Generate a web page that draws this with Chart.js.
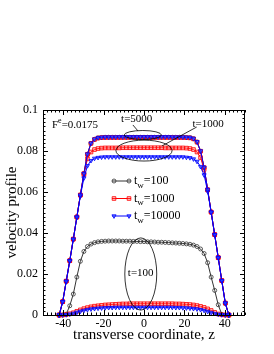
<!DOCTYPE html>
<html>
<head>
<meta charset="utf-8">
<script src="https://cdn.jsdelivr.net/npm/chart.js@4/dist/chart.umd.min.js"></script>
<style>
    body { margin: 0; background: #fff; }
    canvas { display: block; }
</style>
</head>
<body>
<canvas id="profileChart" width="274" height="354"></canvas>
<script>
// transverse coordinate of every sample
var zValues = [-42, -40.25, -38.5, -36.75, -35, -33.25, -31.5, -29.75, -28, -26.25, -24.5, -22.75,
    -21, -19.25, -17.5, -15.75, -14, -12.25, -10.5, -8.75, -7, -5.25, -3.5, -1.75, 0,
    1.75, 3.5, 5.25, 7, 8.75, 10.5, 12.25, 14, 15.75, 17.5, 19.25, 21, 22.75, 24.5, 26.25,
    28, 29.75, 31.5, 33.25, 35, 36.75, 38.5, 40.25, 42];

// tick labels
var xTicks = [-40, -20, 0, 20, 40];
var yTicks = [0, 0.02, 0.04, 0.06, 0.08, 0.1];
var yTickLabels = ['0', '0.02', '0.04', '0.06', '0.08', '0.1'];

// legend entries (waiting time t_w)
var waitTimes = ['100', '1000', '10000'];

// t_w = 100
var tw100_t100 = [0, 0, 0.0004, 0.0045, 0.0102, 0.0185, 0.0262, 0.0310, 0.0334, 0.0346, 0.0353, 0.0357,
    0.0359, 0.0360, 0.0361, 0.0361, 0.0361, 0.0361, 0.0360, 0.0360, 0.0360, 0.0359, 0.0359, 0.0358, 0.0358,
    0.0357, 0.0357, 0.0356, 0.0355, 0.0355, 0.0354, 0.0353, 0.0352, 0.0351, 0.0350, 0.0349, 0.0347, 0.0345,
    0.0341, 0.0334, 0.0322, 0.0300, 0.0255, 0.0185, 0.0120, 0.0050, 0.0003, 0, 0];
var tw100_t5000 = [0, 0.0065, 0.0165, 0.0265, 0.0370, 0.0478, 0.0585, 0.0690, 0.0784, 0.0837, 0.0857, 0.0864,
    0.0866, 0.0867, 0.0867, 0.0867, 0.0867, 0.0867, 0.0867, 0.0867, 0.0867, 0.0867, 0.0867, 0.0867, 0.0867,
    0.0867, 0.0867, 0.0867, 0.0867, 0.0867, 0.0867, 0.0867, 0.0867, 0.0867, 0.0867, 0.0867, 0.0866, 0.0865,
    0.0860, 0.0844, 0.0799, 0.0719, 0.0611, 0.0502, 0.0392, 0.0280, 0.0168, 0.0058, 0];

// t_w = 1000
var tw1000_t100 = [0, 0, 0.0002, 0.0006, 0.0011, 0.0018, 0.0025, 0.0031, 0.0036, 0.0040, 0.0043, 0.0045,
    0.0047, 0.0049, 0.0050, 0.0051, 0.0052, 0.0053, 0.0054, 0.0054, 0.0055, 0.0055, 0.0055, 0.0055, 0.0055,
    0.0055, 0.0055, 0.0055, 0.0055, 0.0055, 0.0055, 0.0055, 0.0055, 0.0054, 0.0054, 0.0053, 0.0052, 0.0051,
    0.0049, 0.0046, 0.0042, 0.0037, 0.0030, 0.0022, 0.0013, 0.0005, 0.0001, 0, 0];
var tw1000_t1000 = [0, 0.0065, 0.0165, 0.0265, 0.0370, 0.0478, 0.0585, 0.0685, 0.0762, 0.0795, 0.0807, 0.0812,
    0.0814, 0.0815, 0.0815, 0.0815, 0.0815, 0.0815, 0.0816, 0.0816, 0.0816, 0.0816, 0.0816, 0.0816, 0.0816,
    0.0816, 0.0816, 0.0816, 0.0816, 0.0816, 0.0815, 0.0815, 0.0815, 0.0815, 0.0815, 0.0815, 0.0814, 0.0812,
    0.0807, 0.0795, 0.0768, 0.0710, 0.0610, 0.0502, 0.0392, 0.0280, 0.0168, 0.0058, 0];
var tw1000_t5000 = [0, 0.0065, 0.0165, 0.0265, 0.0370, 0.0478, 0.0585, 0.0690, 0.0784, 0.0837, 0.0856, 0.0863,
    0.0865, 0.0866, 0.0866, 0.0866, 0.0866, 0.0866, 0.0866, 0.0866, 0.0866, 0.0866, 0.0866, 0.0866, 0.0866,
    0.0866, 0.0866, 0.0866, 0.0866, 0.0866, 0.0866, 0.0866, 0.0866, 0.0866, 0.0866, 0.0866, 0.0865, 0.0864,
    0.0859, 0.0843, 0.0799, 0.0719, 0.0611, 0.0502, 0.0392, 0.0280, 0.0168, 0.0058, 0];

// t_w = 10000
var tw10000_t100 = [0, 0, 0.0001, 0.0004, 0.0008, 0.0013, 0.0018, 0.0022, 0.0026, 0.0029, 0.0031, 0.0033,
    0.0034, 0.0035, 0.0036, 0.0036, 0.0037, 0.0037, 0.0037, 0.0037, 0.0037, 0.0037, 0.0037, 0.0037, 0.0037,
    0.0037, 0.0037, 0.0037, 0.0037, 0.0037, 0.0037, 0.0037, 0.0037, 0.0036, 0.0036, 0.0035, 0.0034, 0.0033,
    0.0031, 0.0029, 0.0026, 0.0022, 0.0017, 0.0012, 0.0007, 0.0003, 0.0001, 0, 0];
var tw10000_t1000 = [0, 0.0064, 0.0163, 0.0263, 0.0368, 0.0475, 0.0580, 0.0668, 0.0728, 0.0753, 0.0764, 0.0768,
    0.0770, 0.0771, 0.0771, 0.0771, 0.0771, 0.0771, 0.0771, 0.0771, 0.0771, 0.0771, 0.0771, 0.0771, 0.0771,
    0.0771, 0.0771, 0.0771, 0.0771, 0.0771, 0.0771, 0.0771, 0.0771, 0.0771, 0.0771, 0.0771, 0.0769, 0.0767,
    0.0761, 0.0749, 0.0724, 0.0683, 0.0603, 0.0500, 0.0390, 0.0278, 0.0166, 0.0057, 0];
var tw10000_t5000 = [0, 0.0065, 0.0165, 0.0265, 0.0370, 0.0478, 0.0585, 0.0690, 0.0785, 0.0838, 0.0858, 0.0865,
    0.0867, 0.0868, 0.0868, 0.0868, 0.0868, 0.0869, 0.0869, 0.0869, 0.0869, 0.0869, 0.0869, 0.0869, 0.0869,
    0.0869, 0.0869, 0.0869, 0.0869, 0.0869, 0.0869, 0.0869, 0.0868, 0.0868, 0.0868, 0.0868, 0.0867, 0.0866,
    0.0861, 0.0845, 0.0800, 0.0720, 0.0612, 0.0502, 0.0392, 0.0280, 0.0168, 0.0058, 0];

var FONT = 'Liberation Serif';

// line look of each waiting time
var styles = {
    '100': { line: '#333333', fill: 'rgba(255,255,255,0)', point: 'circle', radius: 2, rotation: 0 },
    '1000': { line: '#ff0000', fill: 'rgba(255,90,90,0.35)', point: 'rect', radius: 2.6, rotation: 0 },
    '10000': { line: '#0000ff', fill: 'rgba(60,90,255,0.6)', point: 'triangle', radius: 2.4, rotation: 180 }
};

function makeSet(label, tw, values, order) {
    var st = styles[tw];
    var pts = [];
    for (var i = 0; i < zValues.length; i++) {
        pts.push({ x: zValues[i], y: values[i] });
    }
    return {
        label: label,
        data: pts,
        borderColor: st.line,
        borderWidth: 1,
        backgroundColor: st.fill,
        pointBackgroundColor: st.fill,
        pointBorderColor: st.line,
        pointBorderWidth: 0.8,
        pointStyle: st.point,
        pointRadius: st.radius,
        pointRotation: st.rotation,
        pointHoverRadius: st.radius,
        tension: 0,
        fill: false,
        clip: 6,
        order: order
    };
}

// frame with inward ticks, in-plot legend and the hand made notes
var decorPlugin = {
    id: 'decor',
    afterDraw: function (chart) {
        var ctx = chart.ctx;
        var a = chart.chartArea;
        var xs = chart.scales.x;
        var ys = chart.scales.y;
        var i, p, len;

        ctx.save();
        ctx.strokeStyle = '#000';
        ctx.lineWidth = 1;
        ctx.strokeRect(a.left + 0.5, a.top + 0.5, a.right - a.left - 1, a.bottom - a.top);

        ctx.beginPath();
        for (i = -50; i <= 50; i += 2) {
            p = Math.round(xs.getPixelForValue(i)) + 0.5;
            len = (i % 20 === 0) ? 5 : 2.5;
            ctx.moveTo(p, a.bottom);
            ctx.lineTo(p, a.bottom - len);
            ctx.moveTo(p, a.top);
            ctx.lineTo(p, a.top + len);
        }
        for (i = 0; i <= 50; i++) {
            p = Math.round(ys.getPixelForValue(i * 0.002)) + 0.5;
            len = (i % 10 === 0) ? 5 : 2.5;
            ctx.moveTo(a.left, p);
            ctx.lineTo(a.left + len, p);
            ctx.moveTo(a.right, p);
            ctx.lineTo(a.right - len, p);
        }
        ctx.stroke();

        // legend
        ctx.fillStyle = '#000';
        ctx.textBaseline = 'middle';
        for (i = 0; i < waitTimes.length; i++) {
            var st = styles[waitTimes[i]];
            var ly = 181 + i * 17.5;
            ctx.strokeStyle = st.line;
            ctx.lineWidth = 1;
            ctx.beginPath();
            ctx.moveTo(112, ly);
            ctx.lineTo(131, ly);
            ctx.stroke();
            ctx.fillStyle = st.fill;
            ctx.lineWidth = 0.8;
            Chart.helpers.drawPoint(ctx, { pointStyle: st.point, radius: st.radius, rotation: st.rotation, borderWidth: 0.8 }, 114, ly);
            Chart.helpers.drawPoint(ctx, { pointStyle: st.point, radius: st.radius, rotation: st.rotation, borderWidth: 0.8 }, 129, ly);
            ctx.fillStyle = '#000';
            ctx.textAlign = 'left';
            ctx.font = '12px "' + FONT + '"';
            ctx.fillText('t', 134, ly);
            var tx = 134 + ctx.measureText('t').width;
            ctx.font = '9px "' + FONT + '"';
            ctx.fillText('w', tx, ly + 4.5);
            tx += ctx.measureText('w').width;
            ctx.font = '12px "' + FONT + '"';
            ctx.fillText('=' + waitTimes[i], tx, ly);
        }

        // forcing label
        ctx.font = '11px "' + FONT + '"';
        ctx.fillText('F', 52, 125);
        var fx = 52 + ctx.measureText('F').width;
        ctx.font = '8px "' + FONT + '"';
        ctx.fillText('e', fx, 121);
        fx += ctx.measureText('e').width;
        ctx.font = '11px "' + FONT + '"';
        ctx.fillText('=0.0175', fx, 125);

        // ellipses around the curve groups (data units)
        ctx.strokeStyle = '#000';
        ctx.lineWidth = 0.8;
        var rings = [
            { z: -0.6, v: 0.0878, dz: 9.2, dv: 0.0022 },
            { z: 0, v: 0.0802, dz: 13.9, dv: 0.0051 },
            { z: -1.6, v: 0.0200, dz: 7.9, dv: 0.0176 }
        ];
        for (i = 0; i < rings.length; i++) {
            var r = rings[i];
            var cx = xs.getPixelForValue(r.z);
            var cy = ys.getPixelForValue(r.v);
            var rx = Math.abs(xs.getPixelForValue(r.z + r.dz) - cx);
            var ry = Math.abs(ys.getPixelForValue(r.v + r.dv) - cy);
            ctx.beginPath();
            ctx.ellipse(cx, cy, rx, ry, 0, 0, Math.PI * 2);
            ctx.stroke();
        }

        // pointer lines
        ctx.beginPath();
        ctx.moveTo(xs.getPixelForValue(-5.5), ys.getPixelForValue(0.0927));
        ctx.lineTo(xs.getPixelForValue(-3), ys.getPixelForValue(0.0898));
        ctx.moveTo(xs.getPixelForValue(26.1), ys.getPixelForValue(0.0917));
        ctx.lineTo(xs.getPixelForValue(8.8), ys.getPixelForValue(0.0824));
        ctx.stroke();

        ctx.font = '11px "' + FONT + '"';
        ctx.textAlign = 'center';
        ctx.fillText('t=5000', xs.getPixelForValue(-3.6), ys.getPixelForValue(0.0956));
        ctx.textAlign = 'left';
        ctx.fillText('t=1000', xs.getPixelForValue(24), ys.getPixelForValue(0.0932));
        ctx.fillText('t=100', xs.getPixelForValue(-8), ys.getPixelForValue(0.0205));
        ctx.restore();
    }
};

var chartData = {
    datasets: [
        makeSet('tw=100, t=5000', '100', tw100_t5000, 6),
        makeSet('tw=100, t=100', '100', tw100_t100, 5),
        makeSet('tw=1000, t=5000', '1000', tw1000_t5000, 4),
        makeSet('tw=1000, t=1000', '1000', tw1000_t1000, 3),
        makeSet('tw=1000, t=100', '1000', tw1000_t100, 3),
        makeSet('tw=10000, t=5000', '10000', tw10000_t5000, 1),
        makeSet('tw=10000, t=1000', '10000', tw10000_t1000, 1),
        makeSet('tw=10000, t=100', '10000', tw10000_t100, 1)
    ]
};

new Chart(document.getElementById('profileChart').getContext('2d'), {
    type: 'line',
    data: chartData,
    plugins: [decorPlugin],
    options: {
        responsive: false,
        animation: false,
        layout: { padding: { top: 110, right: 29, left: 0, bottom: 0 } },
        plugins: {
            legend: { display: false },
            tooltip: { enabled: false }
        },
        scales: {
            x: {
                type: 'linear',
                min: -50,
                max: 50,
                grid: { display: false, drawTicks: false },
                border: { display: false },
                afterBuildTicks: function (scale) {
                    scale.ticks = xTicks.map(function (v) { return { value: v }; });
                },
                afterFit: function (scale) { scale.height = 39; },
                ticks: {
                    padding: 2,
                    color: '#000',
                    font: { family: FONT, size: 12 },
                    maxRotation: 0,
                    callback: function (v) { return String(v); }
                },
                title: {
                    display: true,
                    text: 'transverse coordinate, z',
                    color: '#000',
                    font: { family: FONT, size: 15 },
                    padding: { top: 0, bottom: 10 }
                }
            },
            y: {
                min: 0,
                max: 0.1,
                grid: { display: false, drawTicks: false },
                border: { display: false },
                afterBuildTicks: function (scale) {
                    scale.ticks = yTicks.map(function (v) { return { value: v }; });
                },
                afterFit: function (scale) { scale.width = 43; },
                ticks: {
                    padding: 5,
                    color: '#000',
                    font: { family: FONT, size: 12 },
                    callback: function (v, idx) { return yTickLabels[idx]; }
                },
                title: {
                    display: true,
                    text: 'velocity profile',
                    color: '#000',
                    font: { family: FONT, size: 15 },
                    padding: { top: 3, bottom: 0 }
                }
            }
        }
    }
});
</script>
</body>
</html>
